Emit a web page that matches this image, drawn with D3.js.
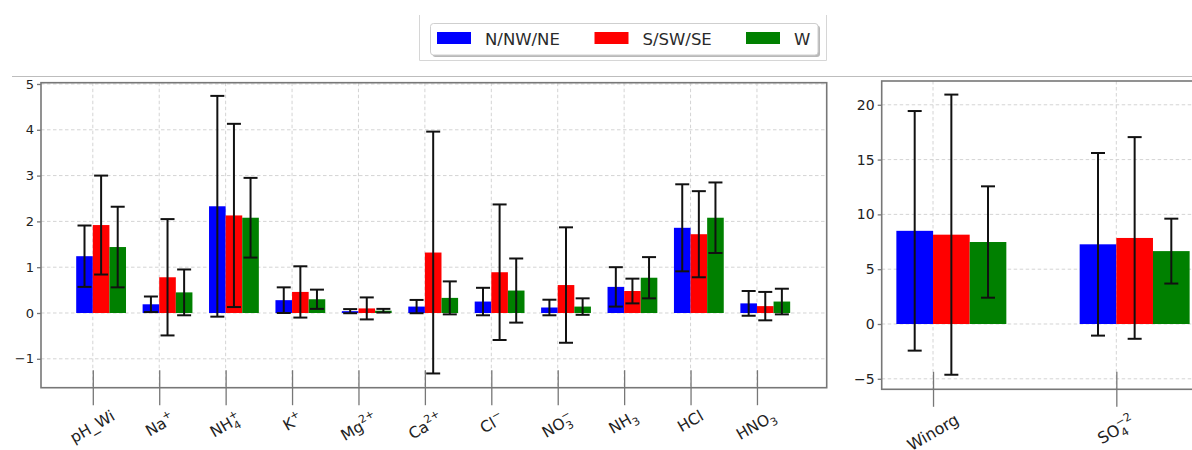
<!DOCTYPE html>
<html>
<head>
<meta charset="utf-8">
<script src="https://cdn.jsdelivr.net/npm/d3@7/dist/d3.min.js"></script>
<style>
  html, body { margin: 0; padding: 0; background: #fff; }
  svg { display: block; font-family: "DejaVu Sans", sans-serif; }
</style>
</head>
<body>
<svg id="chart" width="1192" height="450"></svg>
<script>
// ---- data -------------------------------------------------------------
const seriesNames = ["N/NW/NE", "S/SW/SE", "W"];
const seriesColors = ["#0000ff", "#ff0000", "#008000"];

// ion / gas panel
const ionLabels = ["pH_Wi", "Na^{+}", "NH_{4}^{+}", "K^{+}", "Mg^{2+}", "Ca^{2+}",
                   "Cl^{−}", "NO_{3}^{−}", "NH_{3}", "HCl", "HNO_{3}"];
const ionNorth    = [1.24, 0.19, 2.33, 0.28, 0.04, 0.14, 0.25, 0.12, 0.57, 1.86, 0.21];
const ionNorthErr = [0.67, 0.17, 2.41, 0.28, 0.045, 0.145, 0.30, 0.17, 0.43, 0.95, 0.27];
const ionSouth    = [1.92, 0.78, 2.13, 0.46, 0.10, 1.32, 0.89, 0.61, 0.48, 1.72, 0.15];
const ionSouthErr = [1.08, 1.27, 2.00, 0.56, 0.24, 2.64, 1.48, 1.26, 0.27, 0.94, 0.31];
const ionWest     = [1.44, 0.45, 2.08, 0.30, 0.05, 0.33, 0.49, 0.14, 0.77, 2.08, 0.25];
const ionWestErr  = [0.88, 0.50, 0.87, 0.21, 0.04, 0.36, 0.70, 0.18, 0.45, 0.77, 0.28];
const ionTicks = [-1, 0, 1, 2, 3, 4, 5];

// inorganic totals panel
const inorgLabels = ["Winorg", "SO_{4}^{−2}"];
const inorgNorth    = [8.50, 7.27];
const inorgNorthErr = [10.93, 8.33];
const inorgSouth    = [8.15, 7.85];
const inorgSouthErr = [12.78, 9.20];
const inorgWest     = [7.48, 6.65];
const inorgWestErr  = [5.08, 2.96];
const inorgTicks = [-5, 0, 5, 10, 15, 20];

// ---- helpers ----------------------------------------------------------
const svg = d3.select("#chart");
const fmt = d => (d < 0 ? "\u2212" + Math.abs(d) : String(d));
const SPINE = "#777";
const GRID = "#d4d4d4";

// writes "A_{b}^{c}" style text as tspans with sub/superscripts
function richText(textSel, str, fs) {
  const parts = str.split(/(_\{[^}]*\}|\^\{[^}]*\})/).filter(s => s.length);
  let cur = 0, prevSubW = 0;
  parts.forEach(p => {
    let target = 0, size = fs, txt = p, dx = 0, isSub = false;
    if (p.startsWith("_{")) { target = fs * 0.28; size = fs * 0.7; txt = p.slice(2, -1); isSub = true; }
    else if (p.startsWith("^{")) { target = -fs * 0.45; size = fs * 0.7; txt = p.slice(2, -1); dx = -prevSubW; }
    const t = textSel.append("tspan").attr("font-size", size).attr("dy", target - cur).text(txt);
    if (dx) t.attr("dx", dx);
    prevSubW = isSub ? t.node().getComputedTextLength() : 0;
    cur = target;
  });
}

// rotated category label whose rotated box is centred on cx with its top at yTop
function rotatedLabel(g, str, cx, yTop, fs, angle) {
  const t = g.append("text").attr("text-anchor", "middle").attr("fill", "#222")
    .attr("font-size", fs);
  richText(t, str, fs);
  const b = t.node().getBBox();
  const a = angle * Math.PI / 180;
  const pts = [[b.x, b.y], [b.x + b.width, b.y], [b.x, b.y + b.height], [b.x + b.width, b.y + b.height]]
    .map(([x, y]) => [x * Math.cos(a) - y * Math.sin(a), x * Math.sin(a) + y * Math.cos(a)]);
  const minX = d3.min(pts, p => p[0]), maxX = d3.max(pts, p => p[0]);
  const minY = d3.min(pts, p => p[1]);
  t.attr("transform", `translate(${cx - (minX + maxX) / 2},${yTop - minY}) rotate(${angle})`);
}

function panel(opt) {
  const { x0, x1, y0, y1, xDomain, yDomain, ticks, labels, series, errs, barW,
          yFont, xFont, labelTop } = opt;
  const x = d3.scaleLinear().domain(xDomain).range([x0, x1]);
  const y = d3.scaleLinear().domain(yDomain).range([y1, y0]);
  const g = svg.append("g");
  const clip = "clip" + Math.round(x0);
  svg.append("clipPath").attr("id", clip).append("rect")
    .attr("x", x0).attr("y", y0).attr("width", x1 - x0).attr("height", y1 - y0);

  const cats = labels.map((_, i) => i);

  // grid
  const grid = g.append("g").attr("clip-path", `url(#${clip})`);
  grid.selectAll("line.h").data(ticks).join("line")
    .attr("x1", x0).attr("x2", x1).attr("y1", d => y(d)).attr("y2", d => y(d))
    .attr("stroke", GRID).attr("stroke-width", 1).attr("stroke-dasharray", "3.5,2.5");
  grid.selectAll("line.v").data(cats).join("line")
    .attr("x1", d => x(d)).attr("x2", d => x(d)).attr("y1", y0).attr("y2", y1)
    .attr("stroke", GRID).attr("stroke-width", 1).attr("stroke-dasharray", "3.5,2.5");

  // bars
  const bw = x(barW) - x(0);
  series.forEach((vals, s) => {
    g.append("g").attr("clip-path", `url(#${clip})`).selectAll("rect").data(vals).join("rect")
      .attr("x", (d, i) => x(i + (s - 1) * barW))
      .attr("width", bw)
      .attr("y", d => Math.min(y(d), y(0)))
      .attr("height", d => Math.abs(y(d) - y(0)))
      .attr("fill", seriesColors[s]);
  });

  // error bars
  series.forEach((vals, s) => {
    const eg = g.append("g").attr("stroke", "#111").attr("stroke-width", 2).attr("fill", "none");
    vals.forEach((v, i) => {
      const cx = x(i + (s - 1) * barW) + bw / 2;
      const e = errs[s][i];
      const lo = y(v - e), hi = y(v + e);
      eg.append("line").attr("x1", cx).attr("x2", cx).attr("y1", hi).attr("y2", lo);
      eg.append("line").attr("x1", cx - 7).attr("x2", cx + 7).attr("y1", hi).attr("y2", hi);
      eg.append("line").attr("x1", cx - 7).attr("x2", cx + 7).attr("y1", lo).attr("y2", lo);
    });
  });

  // spines
  g.append("rect").attr("x", x0).attr("y", y0).attr("width", x1 - x0).attr("height", y1 - y0)
    .attr("fill", "none").attr("stroke", SPINE).attr("stroke-width", 1.6);

  // y axis
  const ya = g.append("g").attr("transform", `translate(${x0},0)`)
    .call(d3.axisLeft(y).tickValues(ticks).tickSize(4).tickPadding(3).tickFormat(fmt));
  ya.select(".domain").remove();
  ya.selectAll(".tick line").attr("stroke", SPINE).attr("stroke-width", 1.3);
  ya.selectAll(".tick text").attr("font-size", yFont).attr("fill", "#222")
    .attr("font-family", "DejaVu Sans, sans-serif");

  // x axis: in-out ticks
  const xa = g.append("g").attr("transform", `translate(0,${y1})`)
    .call(d3.axisBottom(x).tickValues(cats).tickSize(17.5).tickFormat(""));
  xa.select(".domain").remove();
  xa.selectAll(".tick line").attr("y1", -17.5).attr("y2", 17.5)
    .attr("stroke", SPINE).attr("stroke-width", 1.3);

  labels.forEach((lab, i) => rotatedLabel(g, lab, x(i), labelTop, xFont, -30));
}

// ---- header: separator and legend ---------------------------------------
svg.append("line").attr("x1", 12).attr("x2", 1192).attr("y1", 76.5).attr("y2", 76.5)
  .attr("stroke", "#bdbdbd").attr("stroke-width", 1.2);
svg.append("path").attr("d", "M419.5,15 V60.5 H826.5 V15")
  .attr("fill", "none").attr("stroke", "#d6d6d6").attr("stroke-width", 1);

const leg = svg.append("g");
leg.append("rect").attr("x", 432.5).attr("y", 25.5).attr("width", 387.5).attr("height", 31.5)
  .attr("rx", 3).attr("fill", "#9a9a9a").attr("opacity", 0.7);
leg.append("rect").attr("x", 430.5).attr("y", 23.5).attr("width", 387.5).attr("height", 31.5)
  .attr("rx", 3).attr("fill", "#fff").attr("stroke", "#cfcfcf").attr("stroke-width", 1);
const legX = [437, 594.5, 746];
seriesNames.forEach((n, i) => {
  leg.append("rect").attr("x", legX[i]).attr("y", 32).attr("width", 34).attr("height", 12)
    .attr("fill", seriesColors[i]);
  leg.append("text").attr("x", legX[i] + 48).attr("y", 44.5).attr("font-size", 16.5)
    .attr("fill", "#2a2a2a").text(n);
});

// ---- panels ------------------------------------------------------------
panel({
  x0: 41, x1: 826.7, y0: 82.7, y1: 387.7,
  xDomain: [-0.78, 11.05], yDomain: [-1.631, 5.028],
  ticks: ionTicks, labels: ionLabels,
  series: [ionNorth, ionSouth, ionWest],
  errs: [ionNorthErr, ionSouthErr, ionWestErr],
  barW: 0.25, yFont: 13, xFont: 15.5, labelTop: 407
});

panel({
  x0: 881.7, x1: 1204.3, y0: 81, y1: 389.3,
  xDomain: [-0.28, 1.48], yDomain: [-5.958, 22.17],
  ticks: inorgTicks, labels: inorgLabels,
  series: [inorgNorth, inorgSouth, inorgWest],
  errs: [inorgNorthErr, inorgSouthErr, inorgWestErr],
  barW: 0.2, yFont: 14, xFont: 16, labelTop: 410
});
</script>
</body>
</html>
